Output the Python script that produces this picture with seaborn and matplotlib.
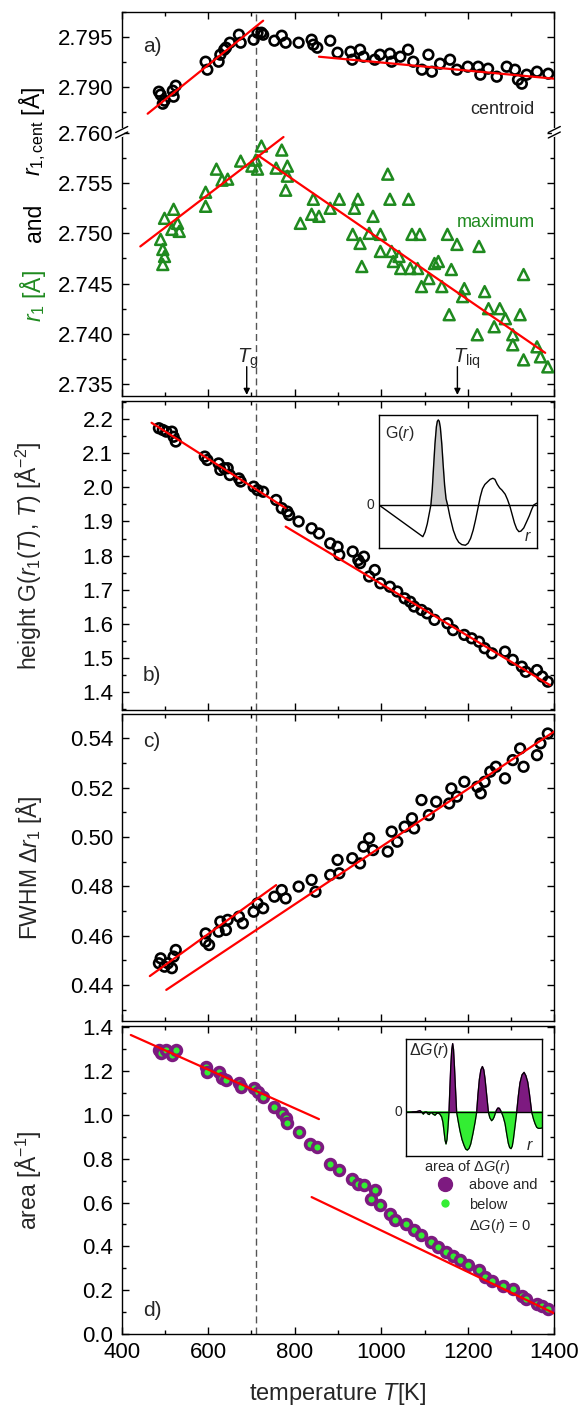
import matplotlib
matplotlib.use("Agg")
import matplotlib.pyplot as plt
import matplotlib.transforms as mtransforms
from matplotlib.lines import Line2D
from matplotlib.ticker import MultipleLocator, FormatStrFormatter
import seaborn as sns
import numpy as np

# ---------------- data ----------------
cent_T = [486, 490, 495, 499, 518, 520, 525, 594, 598, 624, 628, 637, 641, 650, 671, 675,
          705, 714, 723, 727, 753, 770, 779, 809, 839, 843, 852, 882, 899, 929, 933, 951,
          959, 985, 997, 1020, 1024, 1044, 1062, 1074, 1094, 1109, 1117, 1136, 1159, 1175,
          1200, 1224, 1229, 1247, 1267, 1290, 1309, 1316, 1325, 1336, 1360, 1386]
cent_r = [2.7895, 2.7892, 2.7883, 2.7886, 2.7896, 2.7890, 2.7901, 2.7925, 2.7917, 2.7925,
          2.7932, 2.7937, 2.7939, 2.7944, 2.7952, 2.7944, 2.7947, 2.7954, 2.7954, 2.7952,
          2.7946, 2.7951, 2.7944, 2.7944, 2.7947, 2.7942, 2.7939, 2.7946, 2.7934, 2.7935,
          2.7927, 2.7937, 2.7930, 2.7927, 2.7932, 2.7933, 2.7925, 2.7930, 2.7937, 2.7925,
          2.7917, 2.7932, 2.7915, 2.7923, 2.7927, 2.7917, 2.7920, 2.7920, 2.7912, 2.7918,
          2.7910, 2.7920, 2.7917, 2.7907, 2.7903, 2.7912, 2.7915, 2.7913]

max_T = [490, 495, 499, 495, 499, 520, 516, 529, 533, 594, 594, 619, 632, 645, 675, 701,
         714, 723, 710, 757, 770, 783, 783, 779, 813, 843, 839, 856, 882, 903, 946, 938,
         934, 951, 955, 981, 972, 998, 998, 1015, 1020, 1024, 1028, 1041, 1045, 1063, 1067,
         1084, 1071, 1089, 1093, 1110, 1123, 1132, 1140, 1153, 1157, 1162, 1175, 1192, 1188,
         1222, 1226, 1239, 1248, 1261, 1274, 1287, 1304, 1304, 1321, 1329, 1329, 1360, 1368,
         1385]
max_r = [2.7494, 2.7484, 2.7477, 2.7469, 2.7515, 2.7524, 2.7504, 2.7510, 2.7502, 2.7541,
         2.7527, 2.7564, 2.7553, 2.7554, 2.7572, 2.7567, 2.7564, 2.7587, 2.7573, 2.7565,
         2.7583, 2.7567, 2.7557, 2.7543, 2.7510, 2.7534, 2.7519, 2.7517, 2.7525, 2.7534,
         2.7534, 2.7525, 2.7499, 2.7490, 2.7467, 2.7517, 2.7500, 2.7499, 2.7482, 2.7559,
         2.7534, 2.7482, 2.7472, 2.7477, 2.7465, 2.7534, 2.7465, 2.7465, 2.7499, 2.7499,
         2.7447, 2.7455, 2.7470, 2.7472, 2.7447, 2.7499, 2.7419, 2.7464, 2.7489, 2.7445,
         2.7437, 2.7399, 2.7487, 2.7442, 2.7425, 2.7407, 2.7425, 2.7415, 2.7399, 2.7389,
         2.7419, 2.7459, 2.7374, 2.7387, 2.7377, 2.7367]

height_T = [486, 495, 503, 516, 520, 525, 592, 598, 624, 628, 637, 645, 650, 671, 675, 705,
            714, 727, 757, 770, 783, 787, 809, 839, 856, 882, 899, 903, 934, 947, 960, 951,
            972, 985, 998, 1020, 1037, 1054, 1067, 1076, 1093, 1106, 1123, 1153, 1166, 1192,
            1209, 1226, 1239, 1256, 1286, 1304, 1325, 1334, 1360, 1372, 1385]
height_G = [2.173, 2.168, 2.163, 2.163, 2.148, 2.134, 2.090, 2.080, 2.070, 2.051, 2.056,
            2.056, 2.036, 2.026, 2.017, 2.002, 1.992, 1.987, 1.963, 1.939, 1.929, 1.919,
            1.900, 1.880, 1.865, 1.836, 1.826, 1.802, 1.812, 1.787, 1.797, 1.778, 1.739,
            1.758, 1.719, 1.709, 1.695, 1.675, 1.665, 1.651, 1.641, 1.631, 1.612, 1.602,
            1.582, 1.568, 1.558, 1.548, 1.529, 1.514, 1.519, 1.495, 1.475, 1.460, 1.465,
            1.446, 1.431]

fwhm_T = [486, 490, 499, 507, 516, 520, 525, 594, 602, 594, 624, 628, 641, 645, 671, 680,
          705, 714, 727, 753, 770, 779, 809, 839, 848, 882, 899, 903, 933, 951, 959, 972,
          981, 1015, 1024, 1037, 1054, 1071, 1076, 1093, 1110, 1127, 1157, 1162, 1175, 1192,
          1222, 1230, 1239, 1252, 1265, 1286, 1304, 1321, 1329, 1360, 1368, 1385]
fwhm_v = [0.4488, 0.4508, 0.4474, 0.4488, 0.4468, 0.4515, 0.4542, 0.4609, 0.4562, 0.4576,
          0.4616, 0.4657, 0.4623, 0.4664, 0.4677, 0.4650, 0.4697, 0.4731, 0.4711, 0.4758,
          0.4785, 0.4751, 0.4799, 0.4826, 0.4778, 0.4846, 0.4907, 0.4853, 0.4914, 0.4893,
          0.4961, 0.4995, 0.4947, 0.4941, 0.5022, 0.4981, 0.5042, 0.5076, 0.5035, 0.5150,
          0.5089, 0.5143, 0.5136, 0.5197, 0.5164, 0.5224, 0.5204, 0.5177, 0.5224, 0.5265,
          0.5285, 0.5238, 0.5312, 0.5359, 0.5285, 0.5332, 0.5380, 0.5420]

area_T = [486, 490, 503, 516, 525, 594, 598, 624, 632, 641, 671, 675, 705, 714, 727, 753,
          770, 779, 783, 809, 835, 852, 882, 903, 933, 947, 960, 985, 977, 998, 1020, 1032,
          1058, 1076, 1093, 1114, 1131, 1149, 1166, 1183, 1200, 1226, 1239, 1256, 1282, 1304,
          1325, 1334, 1360, 1372, 1385]
area_v = [1.296, 1.281, 1.296, 1.273, 1.296, 1.220, 1.197, 1.197, 1.167, 1.159, 1.144,
          1.129, 1.121, 1.106, 1.083, 1.037, 1.007, 0.984, 0.961, 0.923, 0.869, 0.854,
          0.778, 0.747, 0.709, 0.686, 0.679, 0.656, 0.618, 0.587, 0.549, 0.519, 0.503,
          0.473, 0.450, 0.419, 0.397, 0.374, 0.358, 0.336, 0.313, 0.290, 0.259, 0.244,
          0.221, 0.206, 0.175, 0.160, 0.137, 0.130, 0.114]

# linear fits (end points)
fit_cent1_T, fit_cent1_r = [460, 727], [2.7873, 2.7966]
fit_cent2_T, fit_cent2_r = [856, 1400], [2.7930, 2.7908]
fit_max1_T, fit_max1_r = [443, 774], [2.7487, 2.7596]
fit_max2_T, fit_max2_r = [714, 1379], [2.7578, 2.7381]
fit_h1_T, fit_h1_G = [469, 779], [2.189, 1.939]
fit_h2_T, fit_h2_G = [779, 1390], [1.885, 1.421]
fit_w1_T, fit_w1_v = [465, 757], [0.4436, 0.4805]
fit_w2_T, fit_w2_v = [503, 1411], [0.4380, 0.5441]
fit_a1_T, fit_a1_v = [421, 856], [1.365, 0.981]
fit_a2_T, fit_a2_v = [839, 1403], [0.625, 0.0915]

T_dashed = 710
T_g_arrow = 689
T_liq_arrow = 1176

# inset sketches
inset_G_r = [0.0, 0.278, 0.292, 0.306, 0.318, 0.329, 0.338, 0.346, 0.355, 0.364, 0.370,
             0.376, 0.382, 0.389, 0.398, 0.407, 0.416, 0.425, 0.435, 0.450, 0.471, 0.490,
             0.506, 0.525, 0.548, 0.565, 0.581, 0.597, 0.612, 0.627, 0.642, 0.656, 0.671,
             0.690, 0.705, 0.722, 0.735, 0.750, 0.765, 0.780, 0.800, 0.815, 0.831, 0.845,
             0.859, 0.873, 0.887, 0.900, 0.918, 0.935, 0.953, 0.968, 0.981, 1.0]
inset_G = [0.0, -0.352, -0.30, -0.21, -0.10, 0.0, 0.18, 0.42, 0.68, 0.87, 0.93, 0.945,
           0.93, 0.86, 0.68, 0.44, 0.22, 0.07, 0.0, -0.13, -0.28, -0.37, -0.415, -0.44,
           -0.447, -0.425, -0.37, -0.28, -0.167, -0.04, 0.09, 0.18, 0.228, 0.26, 0.285,
           0.297, 0.285, 0.23, 0.19, 0.165, 0.12, 0.06, -0.02, -0.11, -0.20, -0.265, -0.296,
           -0.29, -0.255, -0.19, -0.12, -0.05, 0.0, 0.02]

inset_dG_r = [0.0, 0.04, 0.08, 0.103, 0.115, 0.128, 0.14, 0.152, 0.163, 0.172, 0.18, 0.19,
              0.2, 0.214, 0.226, 0.238, 0.25, 0.263, 0.272, 0.280, 0.288, 0.295, 0.302,
              0.309, 0.317, 0.323, 0.330, 0.337, 0.344, 0.350, 0.357, 0.365, 0.373, 0.385,
              0.398, 0.413, 0.428, 0.44, 0.452, 0.465, 0.477, 0.493, 0.509, 0.521, 0.531,
              0.541, 0.552, 0.563, 0.573, 0.582, 0.595, 0.607, 0.618, 0.631, 0.641, 0.649,
              0.658, 0.668, 0.678, 0.688, 0.697, 0.705, 0.717, 0.730, 0.742, 0.754, 0.764,
              0.774, 0.783, 0.791, 0.803, 0.816, 0.828, 0.840, 0.855, 0.870, 0.883, 0.897,
              0.91, 0.926, 0.94, 0.951, 0.963, 0.975, 0.99, 1.0]
inset_dG = [-0.005, 0.0, 0.005, 0.018, 0.0, -0.03, 0.0, 0.0, -0.03, -0.035, -0.01, -0.01,
            -0.03, -0.045, -0.02, -0.015, -0.03, -0.07, -0.14, -0.26, -0.39, -0.44, -0.38,
            -0.22, 0.0, 0.30, 0.62, 0.85, 0.94, 0.86, 0.62, 0.30, 0.0, -0.13, -0.26, -0.38,
            -0.46, -0.51, -0.525, -0.50, -0.44, -0.30, -0.14, 0.0, 0.25, 0.45, 0.58, 0.625,
            0.58, 0.46, 0.22, 0.0, -0.08, -0.12, -0.10, -0.07, -0.02, 0.03, 0.055, 0.05, 0.02,
            -0.01, -0.07, -0.16, -0.30, -0.43, -0.49, -0.505, -0.47, -0.38, -0.20, 0.0, 0.22,
            0.40, 0.51, 0.545, 0.50, 0.41, 0.24, 0.0, -0.10, -0.16, -0.21, -0.225, -0.225,
            -0.22]

# ---------------- style ----------------
sns.set_theme(style="ticks")
plt.rcParams["font.family"] = ["Liberation Sans", "DejaVu Sans"]
plt.rcParams.update({
    "mathtext.fontset": "custom",
    "mathtext.rm": "Liberation Sans",
    "mathtext.it": "Liberation Sans:italic",
    "mathtext.bf": "Liberation Sans:bold",
    "axes.linewidth": 1.0,
    "axes.edgecolor": "black",
    "xtick.color": "black",
    "ytick.color": "black",
    "xtick.major.width": 1.0,
    "ytick.major.width": 1.0,
    "xtick.minor.width": 1.0,
    "ytick.minor.width": 1.0,
})

GREEN = "#1f8a1f"
PURPLE = "#7d1a80"
LGREEN = "#33ee33"
TICK_FS = 16
LAB_FS = 16.5

W, H = 585, 1408
fig = plt.figure(figsize=(W / 100, H / 100), dpi=100)


def rect(x0, y_top, x1, y_bot):
    return [x0 / W, 1 - y_bot / H, (x1 - x0) / W, (y_bot - y_top) / H]


L, R = 121.7, 554.3
ax_at = fig.add_axes(rect(L, 11.7, R, 132))
ax_ab = fig.add_axes(rect(L, 132, R, 396))
ax_b = fig.add_axes(rect(L, 400.7, R, 709.7))
ax_c = fig.add_axes(rect(L, 714, R, 1020.7))
ax_d = fig.add_axes(rect(L, 1026, R, 1334))


def style_axis(ax, major, minor, fmt, ylim):
    ax.set_xlim(400, 1400)
    ax.set_ylim(*ylim)
    ax.xaxis.set_major_locator(MultipleLocator(200))
    ax.xaxis.set_minor_locator(MultipleLocator(100))
    ax.yaxis.set_major_locator(MultipleLocator(major))
    ax.yaxis.set_minor_locator(MultipleLocator(minor))
    ax.yaxis.set_major_formatter(FormatStrFormatter(fmt))
    ax.tick_params(which="both", direction="in", top=True, right=True,
                   labelsize=TICK_FS, pad=6)
    ax.tick_params(which="major", length=5)
    ax.tick_params(which="minor", length=3)
    ax.set_xlabel("")
    ax.set_ylabel("")
    for s in ax.spines.values():
        s.set_linewidth(1.0)
        s.set_color("black")
    ax.axvline(T_dashed, color="#555555", lw=1.0, dashes=(5, 3), zorder=1)


circ_kw = dict(marker="o", s=48, facecolor="none", edgecolor="black", linewidth=1.9,
               zorder=3, legend=False)
line_kw = dict(color="red", linewidth=1.6, legend=False, zorder=4)

# ---- panel a (broken axis) ----
sns.scatterplot(x=cent_T, y=cent_r, ax=ax_at, **circ_kw)
sns.lineplot(x=fit_cent1_T, y=fit_cent1_r, ax=ax_at, **line_kw)
sns.lineplot(x=fit_cent2_T, y=fit_cent2_r, ax=ax_at, **line_kw)
style_axis(ax_at, 0.005, 0.0025, "%.3f", (2.78547, 2.7975))
ax_at.spines["bottom"].set_visible(False)
ax_at.tick_params(which="both", bottom=False, labelbottom=False)

sns.scatterplot(x=max_T, y=max_r, ax=ax_ab, marker="^", s=62, facecolor="none",
                edgecolor=GREEN, linewidth=1.8, zorder=3, legend=False)
sns.lineplot(x=fit_max1_T, y=fit_max1_r, ax=ax_ab, **line_kw)
sns.lineplot(x=fit_max2_T, y=fit_max2_r, ax=ax_ab, **line_kw)
style_axis(ax_ab, 0.005, 0.0025, "%.3f", (2.7338, 2.7601))
ax_ab.spines["top"].set_visible(False)
ax_ab.tick_params(which="both", top=False, labelbottom=False)

ax_at.text(0.049, 0.707, "a)", transform=ax_at.transAxes, fontsize=15, va="center")
ax_at.text(0.881, 0.191, "centroid", transform=ax_at.transAxes, fontsize=13,
           ha="center", va="center")
ax_ab.text(0.865, 0.656, "maximum", transform=ax_ab.transAxes, fontsize=13,
           ha="center", va="center", color=GREEN)

# arrows T_g and T_liq
for Tarr, Ttxt, lab in [(T_g_arrow, 666, r"$T_\mathrm{g}$"),
                        (T_liq_arrow, 1166, r"$T_\mathrm{liq}$")]:
    ax_ab.annotate("", xy=(Tarr, 0.004), xycoords=("data", "axes fraction"),
                   xytext=(Tarr, 0.111), textcoords=("data", "axes fraction"),
                   arrowprops=dict(arrowstyle="-|>", lw=1.0, color="black",
                                   mutation_scale=9, shrinkA=0, shrinkB=0))
    ax_ab.text(Ttxt, 0.128, lab, transform=mtransforms.blended_transform_factory(
        ax_ab.transData, ax_ab.transAxes), fontsize=14.5, ha="left", va="baseline")

# break marks
def fig_line(xs, ys, **kw):
    fig.add_artist(Line2D([x / W for x in xs], [1 - y / H for y in ys],
                          transform=fig.transFigure, **kw))

for xb in (L, R):
    fig_line([xb, xb], [129.5, 135.0], color="white", lw=3, zorder=10)
    for yc in (129.5, 135.0):
        fig_line([xb - 6, xb + 6], [yc + 3, yc - 3], color="black", lw=1.0, zorder=11)

# composite y-label of panel a
xl = 40.5 / W
fig.text(xl, 1 - 296.5 / H, r"$r_1$ [Å]", rotation=90, rotation_mode="anchor",
         ha="center", va="baseline", fontsize=LAB_FS, color=GREEN)
fig.text(xl, 1 - 222.5 / H, "and", rotation=90, rotation_mode="anchor",
         ha="center", va="baseline", fontsize=LAB_FS, color="black")
fig.text(xl, 1 - 131 / H, r"$r_{1,\mathrm{cent}}$ [Å]", rotation=90,
         rotation_mode="anchor", ha="center", va="baseline", fontsize=LAB_FS,
         color="black")

# ---- panel b ----
sns.scatterplot(x=height_T, y=height_G, ax=ax_b, **circ_kw)
sns.lineplot(x=fit_h1_T, y=fit_h1_G, ax=ax_b, **line_kw)
sns.lineplot(x=fit_h2_T, y=fit_h2_G, ax=ax_b, **line_kw)
style_axis(ax_b, 0.1, 0.05, "%.1f", (1.349, 2.2536))
ax_b.tick_params(labelbottom=False)
ax_b.set_ylabel(r"height G($r_1$($T$), $T$) [Å$^{-2}$]", fontsize=LAB_FS)
ax_b.text(0.049, 0.112, "b)", transform=ax_b.transAxes, fontsize=15, va="center")

# ---- panel c ----
sns.scatterplot(x=fwhm_T, y=fwhm_v, ax=ax_c, **circ_kw)
sns.lineplot(x=fit_w1_T, y=fit_w1_v, ax=ax_c, **line_kw)
sns.lineplot(x=fit_w2_T, y=fit_w2_v, ax=ax_c, **line_kw)
style_axis(ax_c, 0.02, 0.01, "%.2f", (0.4255, 0.5499))
ax_c.tick_params(labelbottom=False)
ax_c.set_ylabel(r"FWHM $\Delta r_1$ [Å]", fontsize=LAB_FS)
ax_c.text(0.049, 0.909, "c)", transform=ax_c.transAxes, fontsize=15, va="center")

# ---- panel d ----
sns.scatterplot(x=area_T, y=area_v, ax=ax_d, marker="o", s=50, facecolor=LGREEN,
                edgecolor=PURPLE, linewidth=2.6, zorder=3, legend=False)
sns.lineplot(x=fit_a1_T, y=fit_a1_v, ax=ax_d, **line_kw)
sns.lineplot(x=fit_a2_T, y=fit_a2_v, ax=ax_d, **line_kw)
style_axis(ax_d, 0.2, 0.1, "%.1f", (0.0, 1.406))
ax_d.xaxis.set_major_formatter(FormatStrFormatter("%d"))
ax_d.set_ylabel(r"area [Å$^{-1}$]", fontsize=LAB_FS)
ax_d.set_xlabel(r"temperature $T$[K]", fontsize=LAB_FS + 0.5, labelpad=13)
ax_d.text(0.049, 0.075, "d)", transform=ax_d.transAxes, fontsize=15, va="center")

for ax in (ax_b, ax_c, ax_d):
    ax.yaxis.set_label_coords(-0.18, 0.5)

# legend in panel d
handles = [Line2D([], [], ls="none", marker="o", ms=10, mfc=PURPLE, mec=PURPLE),
           Line2D([], [], ls="none", marker="o", ms=5, mfc=LGREEN, mec=LGREEN),
           Line2D([], [], ls="none")]
labels = ["above and", "below", r"$\Delta G(r)$ = 0"]
ax_d.legend(handles, labels, loc="upper left", bbox_to_anchor=(0.731, 0.5055),
            frameon=False, fontsize=10.5, handlelength=1.0, handletextpad=1.1,
            labelspacing=0.36, borderpad=0, borderaxespad=0)
ax_d.text(0.798, 0.543, r"area of $\Delta G(r)$", transform=ax_d.transAxes,
          fontsize=10.5, ha="center", va="center")

# ---- inset b ----
ins_b = fig.add_axes(rect(379, 415, 536.7, 548.3))
sns.lineplot(x=inset_G_r, y=inset_G, ax=ins_b, sort=False, estimator=None,
             color="black", linewidth=1.0, legend=False)
Gr = np.array(inset_G_r)
Gv = np.array(inset_G)
ins_b.fill_between(Gr, Gv, 0, where=(Gv >= 0) & (Gr < 0.5), interpolate=True,
                   color="#c8c8c8", zorder=1)
ins_b.axhline(0, color="black", lw=1.0)
ins_b.set_xlim(0, 1)
ins_b.set_ylim(-0.481, 1.0)
ins_b.set_xticks([])
ins_b.set_yticks([])
ins_b.set_xlabel("")
ins_b.set_ylabel("")
for s in ins_b.spines.values():
    s.set_linewidth(1.0)
    s.set_color("black")
ins_b.text(0.035, 0.863, r"G($r$)", transform=ins_b.transAxes, fontsize=11.5,
           ha="left", va="center")
ins_b.text(-0.03, 0.0, "0", transform=mtransforms.blended_transform_factory(
    ins_b.transAxes, ins_b.transData), fontsize=10, ha="right", va="center")
ins_b.text(0.945, 0.03, r"$r$", transform=ins_b.transAxes, fontsize=11.5,
           ha="center", va="bottom")

# ---- inset d ----
ins_d = fig.add_axes(rect(406, 1039.3, 541.7, 1156))
dr = np.array(inset_dG_r)
dv = np.array(inset_dG)
ins_d.fill_between(dr, dv, 0, where=dv >= 0, interpolate=True, color=PURPLE, zorder=1)
ins_d.fill_between(dr, dv, 0, where=dv <= 0, interpolate=True, color=LGREEN, zorder=1)
sns.lineplot(x=inset_dG_r, y=inset_dG, ax=ins_d, sort=False, estimator=None,
             color="black", linewidth=0.9, legend=False, zorder=2)
ins_d.axhline(0, color="black", lw=1.0, zorder=3)
ins_d.set_xlim(0, 1)
ins_d.set_ylim(-0.606, 1.0)
ins_d.set_xticks([])
ins_d.set_yticks([])
ins_d.set_xlabel("")
ins_d.set_ylabel("")
for s in ins_d.spines.values():
    s.set_linewidth(1.0)
    s.set_color("black")
ins_d.text(0.02, 0.9, r"$\Delta G(r)$", transform=ins_d.transAxes, fontsize=11.5,
           ha="left", va="center")
ins_d.text(-0.03, 0.0, "0", transform=mtransforms.blended_transform_factory(
    ins_d.transAxes, ins_d.transData), fontsize=10, ha="right", va="center")
ins_d.text(0.914, 0.094, r"$r$", transform=ins_d.transAxes, fontsize=11.5,
           ha="center", va="center")

fig.savefig("out.png", dpi=100)
